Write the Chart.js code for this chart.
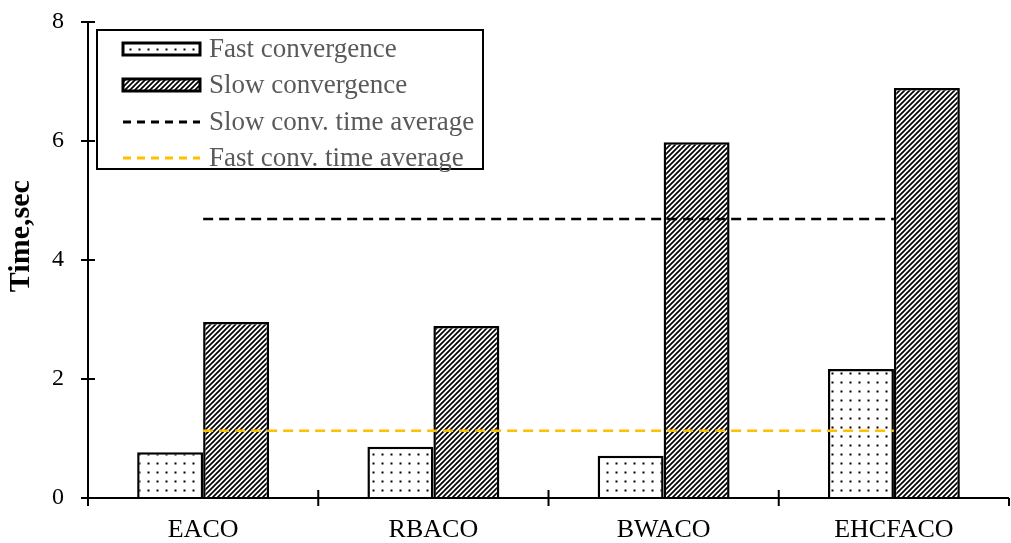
<!DOCTYPE html>
<html><head><meta charset="utf-8">
<script src="https://cdn.jsdelivr.net/npm/chart.js@4/dist/chart.umd.min.js"></script>
<style>html,body{margin:0;padding:0;background:#fff}#wrap{width:1011px;height:543px}</style>
</head><body><div id="wrap"><canvas id="c" width="1011" height="543"></canvas></div>
<script>
const categories = ['EACO', 'RBACO', 'BWACO', 'EHCFACO'];
const fastValues = [0.77, 0.86, 0.71, 2.17];
const slowValues = [2.96, 2.89, 5.98, 6.89];
const slowAverage = [4.69, 4.69, 4.69, 4.69];
const fastAverage = [1.13, 1.13, 1.13, 1.13];
const seriesNames = ['Fast convergence', 'Slow convergence', 'Slow conv. time average', 'Fast conv. time average'];
const yTicks = [0, 2, 4, 6, 8];
const yTitle = 'Time,sec';

const SERIF = '"Liberation Serif", "Times New Roman", serif';

function dotPattern() {
  const c = document.createElement('canvas'); c.width = 9; c.height = 9;
  const x = c.getContext('2d');
  x.fillStyle = '#fff'; x.fillRect(0, 0, 9, 9);
  x.fillStyle = '#000'; x.fillRect(3.5, 3.5, 2, 2);
  return x.createPattern(c, 'repeat');
}
function hatchPattern() {
  const c = document.createElement('canvas'); c.width = 5; c.height = 5;
  const x = c.getContext('2d');
  x.fillStyle = '#fff'; x.fillRect(0, 0, 5, 5);
  x.strokeStyle = '#000'; x.lineWidth = 1.7;
  x.beginPath();
  x.moveTo(-1, 6); x.lineTo(6, -1);
  x.moveTo(-1, 1); x.lineTo(1, -1);
  x.moveTo(4, 6); x.lineTo(6, 4);
  x.stroke();
  return x.createPattern(c, 'repeat');
}
const dots = dotPattern();
const hatch = hatchPattern();

const crossTicks = {
  id: 'crossTicks',
  afterDraw(chart) {
    const ctx = chart.ctx, xs = chart.scales.x, ys = chart.scales.y;
    const a = chart.chartArea;
    ctx.save();
    ctx.strokeStyle = '#000'; ctx.lineWidth = 2;
    ctx.beginPath();
    ctx.moveTo(a.left, a.top); ctx.lineTo(a.left, a.bottom);
    ctx.moveTo(a.left, a.bottom); ctx.lineTo(a.right, a.bottom);
    ys.ticks.forEach(t => {
      const y = ys.getPixelForValue(t.value);
      ctx.moveTo(a.left - 7, y); ctx.lineTo(a.left + 7, y);
    });
    const step = xs.getPixelForValue(1) - xs.getPixelForValue(0);
    for (let i = 0; i <= categories.length; i++) {
      const x = i < categories.length ? xs.getPixelForValue(i) - step / 2 : a.right;
      const up = (i === 0 || i === categories.length) ? 0 : 8;
      ctx.moveTo(x, a.bottom - up); ctx.lineTo(x, a.bottom + 8);
    }
    ctx.stroke();

    // y title
    ctx.save();
    ctx.translate(21, a.top + (a.bottom - a.top) * 0.45);
    ctx.rotate(-Math.PI / 2);
    ctx.font = 'bold 30px ' + SERIF;
    ctx.fillStyle = '#000';
    ctx.textAlign = 'center'; ctx.textBaseline = 'middle';
    ctx.fillText(yTitle, 0, 0);
    ctx.restore();

    // legend
    const lx = a.left + 9, ly = a.top + 8, lw = 386, lh = 139;
    ctx.lineWidth = 2; ctx.strokeStyle = '#000';
    ctx.fillStyle = '#fff';
    ctx.fillRect(lx, ly, lw, lh);
    ctx.strokeRect(lx, ly, lw, lh);
    const rows = [a.top + 27, a.top + 63, a.top + 100, a.top + 136];
    const mx = lx + 26, mw = 77;
    ctx.font = '27px ' + SERIF;
    ctx.textBaseline = 'middle';
    ctx.textAlign = 'left';
    const ds = chart.data.datasets;
    const order = [2, 3, 0, 1];
    order.forEach((di, r) => {
      const d = ds[di], y = rows[r];
      if (d.type === 'bar') {
        ctx.fillStyle = d.backgroundColor;
        ctx.fillRect(mx, y - 6, mw, 12);
        ctx.lineWidth = 3; ctx.strokeStyle = '#000';
        ctx.strokeRect(mx, y - 6, mw, 12);
      } else {
        ctx.lineWidth = 3; ctx.strokeStyle = d.borderColor;
        ctx.setLineDash([8, 6]);
        ctx.beginPath(); ctx.moveTo(mx, y); ctx.lineTo(mx + mw, y); ctx.stroke();
        ctx.setLineDash([]);
      }
      ctx.fillStyle = '#595959';
      ctx.fillText(d.label, lx + 112, y + 1);
    });
    ctx.restore();
  }
};

new Chart(document.getElementById('c'), {
  data: {
    labels: categories,
    datasets: [
      { type: 'line', label: seriesNames[2], data: slowAverage, borderColor: '#000', borderWidth: 2.5, borderDash: [10, 6], pointRadius: 0, order: 0 },
      { type: 'line', label: seriesNames[3], data: fastAverage, borderColor: '#FFC000', borderWidth: 2.5, borderDash: [10, 6], pointRadius: 0, order: 0 },
      { type: 'bar', label: seriesNames[0], data: fastValues, backgroundColor: dots, borderColor: '#000', borderWidth: 2.5, categoryPercentage: 0.573, barPercentage: 1, order: 1 },
      { type: 'bar', label: seriesNames[1], data: slowValues, backgroundColor: hatch, borderColor: '#000', borderWidth: 2.5, categoryPercentage: 0.573, barPercentage: 1, order: 1 }
    ]
  },
  options: {
    responsive: false,
    animation: false,
    layout: { padding: { top: 22, right: 2, left: 0, bottom: 0 } },
    plugins: { legend: { display: false }, tooltip: { enabled: false } },
    scales: {
      x: {
        grid: { display: false, drawTicks: false },
        border: { display: false },
        ticks: { color: '#000', font: { family: SERIF, size: 26 }, padding: 17 },
        afterFit(s) { s.height = 45; }
      },
      y: {
        min: 0, max: 8,
        afterBuildTicks(s) { s.ticks = yTicks.map(v => ({ value: v })); },
        grid: { display: false, drawTicks: false },
        border: { display: false },
        ticks: { color: '#000', font: { family: SERIF, size: 24 }, padding: 24 },
        afterFit(s) { s.width = 88; s.paddingTop = 0; s.paddingBottom = 0; }
      }
    }
  },
  plugins: [crossTicks]
});
</script></body></html>
